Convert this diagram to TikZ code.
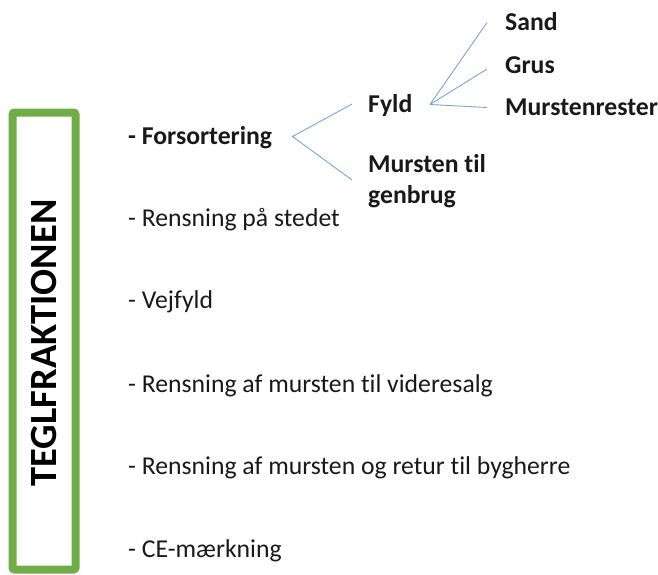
\documentclass[tikz,border=0pt]{standalone}
\usepackage{fontspec}
\setmainfont{Carlito}[Ligatures=NoCommon]
\definecolor{boxgreen}{RGB}{112,173,71}
\definecolor{linkblue}{RGB}{120,165,215}
\begin{document}
\begin{tikzpicture}[x=1pt,y=-1pt,
  item/.style={anchor=base west,inner sep=0pt,font=\fontsize{25.7}{30}\selectfont,text=black!90},
  bitem/.style={item,font=\fontsize{25.7}{30}\selectfont\bfseries},
  link/.style={draw=linkblue,line width=0.9pt}]
\useasboundingbox (0,0) rectangle (658,574);
\draw[draw=boxgreen,line width=8pt,rounded corners=2pt] (12.5,112.5) rectangle (75.5,569.5);
\node[rotate=90,font=\fontsize{38.5}{44}\selectfont\bfseries,inner sep=0pt] (title) at (44,343) {TEGLFRAKTIONEN};
\node[bitem] (fors) at (128,144) {- Forsortering};
\node[item] (rens) at (128,226) {- Rensning på stedet};
\node[item] (vej) at (128,308) {- Vejfyld};
\node[item] (vid) at (128,392) {- Rensning af mursten til videresalg};
\node[item] (ret) at (128,474) {- Rensning af mursten og retur til bygherre};
\node[item] (ce) at (128,557) {- CE-mærkning};
\node[bitem] (fyld) at (368,112) {Fyld};
\node[bitem,align=left,font=\fontsize{25.7}{31}\selectfont\bfseries] (mur) at (368,203) {Mursten til\\genbrug};
\node[bitem] (sand) at (505,30) {Sand};
\node[bitem] (grus) at (505,73) {Grus};
\node[bitem] (rest) at (505,115) {Murstenrester};
\coordinate (a1) at (292.5,136.5);
\coordinate (a2) at (430,104.5);
\draw[link] (352,104) -- (a1) -- (352,180);
\draw[link] (a2) -- (487,22.5);
\draw[link] (a2) -- (487,69);
\draw[link] (a2) -- (487,107.5);
\end{tikzpicture}
\end{document}
